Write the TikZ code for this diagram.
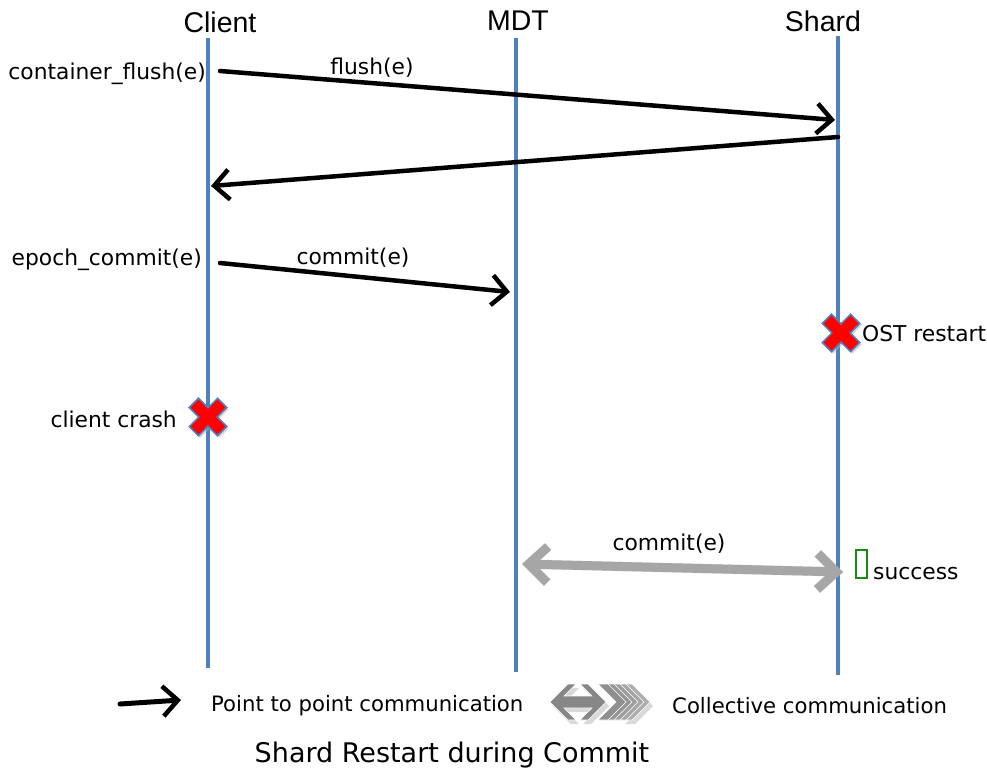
\documentclass[tikz,border=0pt]{standalone}
\usepackage{fontspec}
\setmainfont{DejaVu Sans}
\newfontfamily\hdrfont{Liberation Sans}
\usetikzlibrary{arrows.meta}
\definecolor{lifeblue}{RGB}{79,129,189}
\definecolor{collgray}{RGB}{166,166,166}
\definecolor{okgreen}{RGB}{20,140,20}
\tikzset{
  lifeline/.style={draw=lifeblue, line width=4pt},
  hdr/.style={font=\hdrfont\fontsize{28.5}{30}\selectfont, inner sep=0pt},
  lbl/.style={font=\fontsize{21.8}{24}\selectfont, inner sep=0pt},
  legendtxt/.style={font=\fontsize{21.2}{24}\selectfont, inner sep=0pt, anchor=west},
  p2p/.style={draw=black, line width=4.5pt, line cap=round,
    -{Straight Barb[length=15pt,width=30pt,line width=4.5pt]}},
  coll/.style={draw=collgray, line width=9pt,
    {Straight Barb[length=19pt,width=36pt,line width=9pt]}-{Straight Barb[length=19pt,width=36pt,line width=9pt]}},
  collshadow/.style={draw=black!20, opacity=0.5, line width=9.5pt,
    {Straight Barb[length=19pt,width=36pt,line width=9.5pt]}-{Straight Barb[length=19pt,width=36pt,line width=9.5pt]}},
  pics/crossmark/.style={code={
    \fill[black!30, opacity=0.5, shift={(2,2)}, rotate=45]
      (6.5,20)--(6.5,6.5)--(20,6.5)--(20,-6.5)--(6.5,-6.5)--(6.5,-20)--(-6.5,-20)--(-6.5,-6.5)--(-20,-6.5)--(-20,6.5)--(-6.5,6.5)--(-6.5,20)--cycle;
    \filldraw[fill=red, draw=lifeblue, line width=1.5pt, rotate=45]
      (6.5,20)--(6.5,6.5)--(20,6.5)--(20,-6.5)--(6.5,-6.5)--(6.5,-20)--(-6.5,-20)--(-6.5,-6.5)--(-20,-6.5)--(-20,6.5)--(-6.5,6.5)--(-6.5,20)--cycle;
  }},
  pics/chevron/.style={code={
    \filldraw[draw=white, line width=0.6pt, #1]
      (0,-18)--(10,-18)--(28,0)--(10,18)--(0,18)--(18,0)--cycle;
  }},
  pics/dblarrow/.style={code={
    \filldraw[draw=white, line width=0.6pt, #1]
      (-28,0)--(-10,-18)--(-2,-18)--(-14,-6)--(14,-6)--(2,-18)--(10,-18)--(28,0)--(10,18)--(2,18)--(14,6)--(-14,6)--(-2,18)--(-10,18)--cycle;
  }}
}
\begin{document}
\begin{tikzpicture}[x=1pt,y=-1pt]
\useasboundingbox (0,0) rectangle (987,773);

% headers
\node[hdr] (hclient) at (220,22) {Client};
\node[hdr] (hmdt) at (518,21) {MDT};
\node[hdr] (hshard) at (823,21) {Shard};

% lifelines
\coordinate (ctop) at (208,38);  \coordinate (cbot) at (208,668);
\coordinate (mtop) at (516,38);  \coordinate (mbot) at (516,672);
\coordinate (stop) at (838,36);  \coordinate (sbot) at (838,675);
\draw[lifeline] (ctop) -- (cbot);
\draw[lifeline] (mtop) -- (mbot);
\draw[lifeline] (stop) -- (sbot);

% flush
\node[lbl, anchor=east] (cflush) at (206,74) {container\_flush(e)};
\coordinate (f1) at (220,71);
\coordinate (f2) at (835,120);
\draw[p2p] (f1) -- (f2);
\node[lbl] (flushlbl) at (372,68) {flush(e)};

% reply
\coordinate (r1) at (838,137);
\coordinate (r2) at (211,186);
\draw[p2p] (r1) -- (r2);

% commit
\node[lbl, anchor=east] (ecommit) at (202,260) {epoch\_commit(e)};
\coordinate (c1) at (220,263);
\coordinate (c2) at (510,292);
\draw[p2p] (c1) -- (c2);
\node[lbl] (commitlbl) at (353,258) {commit(e)};

% OST restart
\pic at (841,333) {crossmark};
\node[lbl, anchor=west] (ost) at (862,334) {OST restart};

% client crash
\pic at (208,417) {crossmark};
\node[lbl, anchor=east] (crash) at (177,419) {client crash};

% collective commit
\coordinate (g1) at (522,564);
\coordinate (g2) at (843,572);
\draw[collshadow, shift={(2,5)}] (g1) -- (g2);
\draw[coll] (g1) -- (g2);
\node[lbl] (gcommit) at (669,544) {commit(e)};
\node[draw=okgreen, line width=2pt, minimum width=11pt, minimum height=28pt, inner sep=0pt] (okbox) at (861,564) {};
\node[lbl, anchor=west] (succ) at (873,574) {success};

% legend
\coordinate (l1) at (120,704);
\coordinate (l2) at (181,700);
\draw[p2p, line width=5pt] (l1) -- (l2);
\node[legendtxt] (lp2p) at (211,706) {Point to point communication};
\begin{scope}[shift={(3,4)}]
  \pic at (622,702) {chevron={fill=black!15, draw=none}};
  \pic at (578,702) {dblarrow={fill=black!15, draw=none}};
\end{scope}
\pic at (622,702) {chevron={fill=black!32}};
\pic at (616,702) {chevron={fill=black!35}};
\pic at (610,702) {chevron={fill=black!38}};
\pic at (604,702) {chevron={fill=black!41}};
\pic at (598,702) {chevron={fill=black!44}};
\pic at (578,702) {dblarrow={fill=black!47}};
\node[legendtxt] (lcoll) at (672,706) {Collective communication};

% title
\node[font=\fontsize{27}{30}\selectfont, inner sep=0pt] (title) at (452,755) {Shard Restart during Commit};
\end{tikzpicture}
\end{document}
